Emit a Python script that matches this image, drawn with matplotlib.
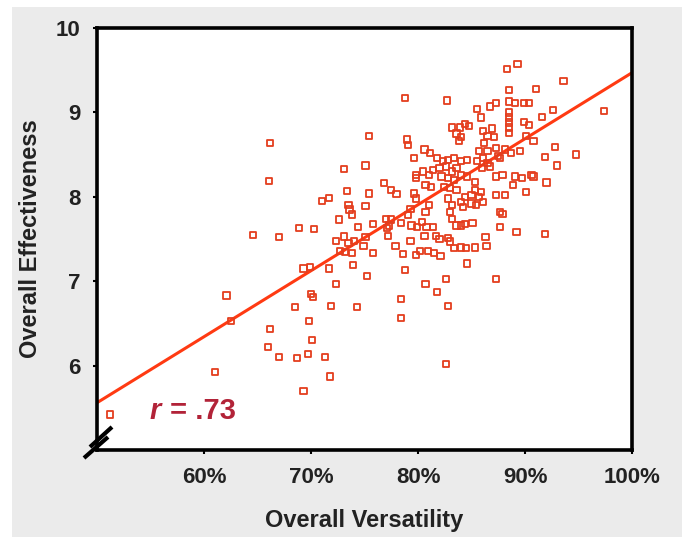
import matplotlib
matplotlib.use("Agg")
import matplotlib.pyplot as plt
import numpy as np
from matplotlib.lines import Line2D
from matplotlib.patches import Rectangle

FONT = ["Liberation Sans Narrow", "Liberation Sans", "DejaVu Sans"]
plt.rcParams["font.family"] = FONT

# data: versatility (%) vs effectiveness
versatility = [
    66.2, 66.1, 64.6, 67.0, 68.9, 70.3, 62.1, 62.5, 61.0, 51.2,
    66.2, 66.0, 67.0, 68.7, 69.7, 71.3, 71.8, 69.3, 69.8, 70.1,
    68.5, 70.0, 70.2, 71.9, 74.3, 69.3, 69.9, 71.7, 72.3, 73.9,
    75.2, 71.0, 71.7, 72.6, 72.3, 73.1, 73.4, 73.5, 73.6, 73.8,
    74.4, 73.1, 73.5, 72.7, 73.2, 73.8, 74.0, 75.1, 74.9, 75.1,
    75.4, 75.4, 75.1, 75.8, 75.8, 76.8, 77.5, 78.0, 77.0, 77.3,
    77.5, 77.1, 77.2, 77.9, 78.6, 78.4, 78.8, 79.0, 79.1, 79.6,
    79.8, 79.8, 79.6, 79.8, 79.3, 79.1, 79.4, 79.9, 79.3, 79.8,
    80.2, 78.8, 78.4, 78.4, 80.7, 80.6, 81.1, 80.5, 81.0, 81.4,
    80.7, 81.2, 81.0, 80.7, 80.4, 80.8, 80.6, 80.9, 81.5, 82.1,
    81.4, 81.7, 82.0, 81.8, 82.6, 82.8, 82.6, 82.7, 83.2, 83.9,
    84.4, 84.8, 83.6, 84.0, 83.8, 81.8, 82.3, 82.8, 83.4, 84.0,
    84.6, 82.0, 82.6, 83.2, 83.6, 82.2, 82.8, 83.4, 84.0, 82.4,
    83.0, 83.6, 82.8, 83.2, 83.0, 83.2, 84.0, 84.2, 84.4, 85.0,
    85.7, 85.0, 85.4, 86.1, 85.3, 85.9, 85.3, 84.6, 83.6, 84.0,
    84.4, 85.1, 83.4, 84.0, 84.5, 85.3, 82.8, 83.0, 84.6, 86.3,
    86.4, 87.3, 85.5, 85.9, 86.1, 86.5, 86.2, 86.5, 85.7, 86.1,
    85.5, 86.5, 86.0, 86.7, 87.3, 86.9, 87.1, 87.3, 87.5, 86.7,
    87.3, 87.9, 87.3, 88.1, 87.7, 87.9, 87.7, 88.3, 89.3, 88.5,
    88.5, 89.1, 88.5, 88.5, 88.5, 88.5, 88.5, 88.1, 88.7, 89.5,
    87.7, 89.1, 89.7, 88.9, 90.1, 89.2, 89.9, 90.4, 91.0, 89.9,
    90.4, 90.1, 90.8, 90.6, 90.8, 91.6, 92.6, 91.9, 92.0, 92.8,
    93.0, 93.6, 94.8, 97.4, 91.9,
]
effectiveness = [
    8.64, 8.19, 7.55, 7.52, 7.63, 7.62, 6.83, 6.53, 5.92, 5.42,
    6.43, 6.22, 6.10, 6.09, 6.14, 6.10, 5.87, 5.70, 6.53, 6.30,
    6.69, 6.85, 6.81, 6.71, 6.69, 7.15, 7.17, 7.15, 6.97, 7.19,
    7.06, 7.95, 7.99, 7.73, 7.48, 8.33, 8.07, 7.90, 7.85, 7.79,
    7.64, 7.53, 7.45, 7.36, 7.35, 7.33, 7.48, 7.52, 7.42, 8.37,
    8.72, 8.04, 7.89, 7.68, 7.33, 8.16, 8.08, 8.03, 7.74, 7.66,
    7.73, 7.63, 7.54, 7.42, 7.32, 7.69, 9.17, 8.68, 8.61, 8.46,
    8.26, 8.22, 8.04, 7.98, 7.86, 7.78, 7.66, 7.64, 7.48, 7.31,
    7.36, 7.13, 6.79, 6.56, 6.97, 8.56, 8.52, 8.30, 8.26, 8.32,
    8.14, 8.12, 7.90, 7.82, 7.70, 7.64, 7.54, 7.36, 7.33, 7.30,
    7.64, 7.54, 7.50, 6.87, 7.03, 6.71, 6.02, 9.14, 8.82, 8.82,
    8.86, 8.84, 8.75, 8.71, 8.66, 8.46, 8.42, 8.44, 8.46, 8.42,
    8.44, 8.34, 8.36, 8.30, 8.34, 8.24, 8.22, 8.20, 8.26, 8.12,
    8.10, 8.08, 7.98, 7.90, 7.82, 7.74, 7.94, 7.88, 8.00, 8.02,
    8.00, 7.92, 7.90, 7.94, 8.08, 8.06, 8.18, 8.24, 7.66, 7.66,
    7.68, 7.69, 7.39, 7.40, 7.39, 7.40, 7.51, 7.47, 7.21, 7.52,
    7.42, 7.03, 9.04, 8.94, 8.78, 8.72, 8.64, 8.54, 8.54, 8.46,
    8.42, 8.40, 8.34, 9.07, 9.11, 8.81, 8.71, 8.58, 8.48, 8.36,
    8.24, 8.26, 8.02, 8.02, 7.82, 7.80, 7.64, 9.51, 9.57, 9.27,
    9.13, 9.11, 9.00, 8.94, 8.88, 8.82, 8.76, 8.56, 8.52, 8.54,
    8.46, 8.24, 8.22, 8.14, 8.06, 7.58, 9.11, 9.11, 9.28, 8.89,
    8.85, 8.72, 8.66, 8.26, 8.24, 8.95, 9.03, 8.47, 8.17, 8.59,
    8.37, 9.37, 8.50, 9.02, 7.56,
]
fit_x = [50, 100]
fit_y = [5.56, 9.47]

x_ticks = [60, 70, 80, 90, 100]
x_labels = ["60%", "70%", "80%", "90%", "100%"]
y_ticks = [6, 7, 8, 9, 10]
y_labels = ["6", "7", "8", "9", "10"]

W, H = 682, 537
fig = plt.figure(figsize=(W / 100, H / 100), dpi=100, facecolor="white")
fig.add_artist(Rectangle((12 / W, 0), 1, 1 - 7 / H, transform=fig.transFigure,
                         facecolor="#ebebeb", edgecolor="none", zorder=-10))

ax = fig.add_axes([97 / W, 1 - 450 / H, 535 / W, 422 / H])
ax.set_facecolor("white")
ax.scatter(versatility, effectiveness, marker="s", s=20, facecolors="none",
           edgecolors="#e43e1e", linewidths=1.3, zorder=3)
ax.plot(fit_x, fit_y, color="#ff3a12", lw=2.2, zorder=2)

ax.set_xlim(50, 100)
ax.set_ylim(5, 10)
ax.set_xticks(x_ticks, x_labels)
ax.set_yticks(y_ticks, y_labels)
ax.tick_params(length=3, width=1.5, color="black", labelsize=16, labelcolor="#222222", pad=9)
for lab in ax.get_xticklabels() + ax.get_yticklabels():
    lab.set_fontweight("bold")
for sp in ax.spines.values():
    sp.set_linewidth(2.6)
    sp.set_color("black")

ax.set_xlabel("Overall Versatility", fontsize=17, fontweight="bold", color="#222222", labelpad=15)
ax.set_ylabel("Overall Effectiveness", fontsize=17, fontweight="bold", color="#222222", labelpad=10)

ax.text(54.9, 5.46, "r", fontsize=21, fontweight="bold", style="italic", color="#b22338", va="center")
ax.text(56.8, 5.46, "= .73", fontsize=21, fontweight="bold", color="#b22338", va="center")

# axis break marks at the lower left corner
for (x0, y0), (x1, y1) in [((90, 447), (112, 427)), ((84, 458), (108, 437))]:
    fig.add_artist(Line2D([x0 / W, x1 / W], [1 - y0 / H, 1 - y1 / H], transform=fig.transFigure,
                          color="black", lw=3, solid_capstyle="butt", zorder=5))

fig.savefig("out.png", dpi=100, facecolor=fig.get_facecolor())
